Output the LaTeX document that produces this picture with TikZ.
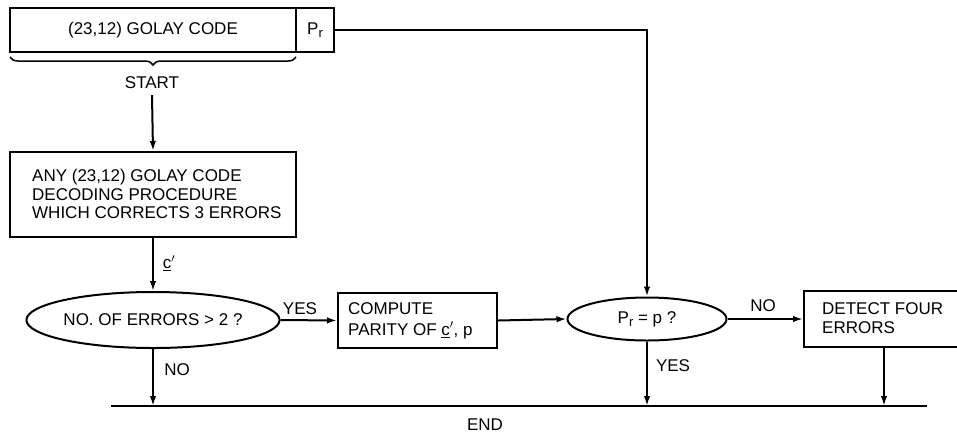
\documentclass[tikz,border=0pt]{standalone}
\usepackage{fontspec}
\setmainfont{Liberation Sans}
\usetikzlibrary{arrows.meta,shapes.geometric,decorations.pathreplacing}
\newcommand{\subr}{\raisebox{-0.4ex}{\fontsize{13}{13}\selectfont r}}
\begin{document}
\begin{tikzpicture}[x=1pt,y=-1pt,
  every node/.style={font=\fontsize{17}{20}\selectfont},
  line/.style={line width=2pt},
  arr/.style={line width=2pt,-{Latex[length=10pt,width=6.5pt]}},
  box/.style={draw,line width=2pt,rectangle,inner sep=0pt},
  oval/.style={draw,line width=2pt,ellipse,inner sep=0pt},
  lbl/.style={inner sep=0pt}]
\useasboundingbox (0,0) rectangle (957,437);
% top boxes
\node[box,minimum width=286pt,minimum height=44pt] (golay) at (153,30) {(23,12) GOLAY CODE};
\node[box,minimum width=38pt,minimum height=44pt] (pr) at (315,30) {P\subr};
\coordinate (bl) at (10,57);
\coordinate (br) at (296,57);
\draw[line width=1.5pt,decorate,decoration={brace,amplitude=8pt}] (br) -- (bl);
\node[lbl] (start) at (152,83) {START};
% decoding box
\node[box,minimum width=286pt,minimum height=85pt] (dec) at (153,194.5) {};
\node[lbl,align=left,anchor=west,font=\fontsize{17}{18.5}\selectfont] (dectext) at (32,194) {ANY (23,12) GOLAY CODE\\DECODING PROCEDURE\\WHICH CORRECTS 3 ERRORS};
% decisions
\node[oval,minimum width=217pt,minimum height=56pt] (e1) at (153,320) {NO. OF ERRORS > 2 ?};
\node[box,minimum width=159pt,minimum height=55pt] (comp) at (417.5,320.5) {};
\node[lbl,align=left,anchor=west,font=\fontsize{17}{21}\selectfont] (comptext) at (348,320.5) {COMPUTE\\PARITY OF \underline{c}$'$, p};
\node[oval,minimum width=159pt,minimum height=43pt] (e2) at (647,319) {P\subr{} = p ?};
\node[box,minimum width=156pt,minimum height=56pt] (det) at (882,319) {};
\node[lbl,align=left,anchor=west,font=\fontsize{17}{19}\selectfont] (dettext) at (822,318) {DETECT FOUR\\ERRORS};
% end line
\coordinate (endl) at (111,406);
\coordinate (endr) at (927,406);
\draw[line] (endl) -- (endr);
\node[lbl] (endtxt) at (485,425) {END};
% connectors
\draw[arr] (start.south) ++(0,6) -- (dec.north);
\draw[arr] (dec.south) -- (e1.north);
\node[lbl] (cp) at (169,263) {\underline{c}$'$};
\draw[arr] (e1.east) -- (comp.west);
\node[lbl] (yes1) at (300,309) {YES};
\draw[arr] (comp.east) -- (e2.west);
\draw[arr] (pr.east) -- (647,30) -- (e2.north);
\draw[arr] (e2.east) -- (det.west);
\node[lbl] (no2) at (763,306) {NO};
\coordinate (t1) at (153,406);
\coordinate (t2) at (647,406);
\coordinate (t3) at (884,406);
\draw[arr] (e1.south) -- (t1);
\node[lbl] (no1) at (177,370) {NO};
\draw[arr] (e2.south) -- (t2);
\node[lbl] (yes2) at (673,366) {YES};
\draw[arr] (det.south -| t3) -- (t3);
\end{tikzpicture}
\end{document}
